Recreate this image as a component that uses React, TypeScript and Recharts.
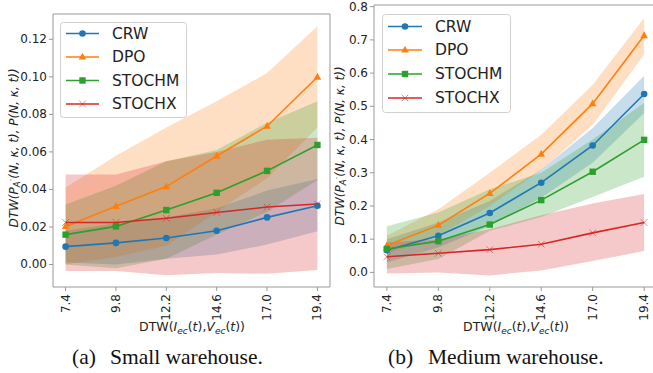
import React from 'react';
import { ComposedChart, Area, Line, XAxis, YAxis, ReferenceArea } from 'recharts';

const xValues = [7.4, 9.8, 12.2, 14.6, 17.0, 19.4];
const seriesNames = ['CRW', 'DPO', 'STOCHM', 'STOCHX'];
const seriesKeys = ['crw', 'dpo', 'stochm', 'stochx'];
const colors = ['#1f77b4', '#ff7f0e', '#2ca02c', '#d62728'];
const shapes = ['circle', 'triangle', 'square', 'x'];

// (a) Small warehouse
const smallCrwMean = [0.0095, 0.0115, 0.0141, 0.018, 0.0251, 0.0313];
const smallCrwLo = [0.001, 0.0, 0.003, 0.0053, 0.0106, 0.0177];
const smallCrwHi = [0.018, 0.022, 0.025, 0.03, 0.0394, 0.0455];
const smallDpoMean = [0.0203, 0.031, 0.0415, 0.0578, 0.0737, 0.0999];
const smallDpoLo = [0.0, 0.004, 0.01, 0.028, 0.046, 0.073];
const smallDpoHi = [0.041, 0.058, 0.073, 0.087, 0.102, 0.127];
const smallStochmMean = [0.0159, 0.0203, 0.029, 0.0382, 0.0499, 0.0637];
const smallStochmLo = [0.0, -0.002, 0.003, 0.016, 0.028, 0.045];
const smallStochmHi = [0.032, 0.042, 0.055, 0.061, 0.0755, 0.087];
const smallStochxMean = [0.0224, 0.0224, 0.0246, 0.0277, 0.0306, 0.0322];
const smallStochxLo = [-0.0035, -0.0035, -0.0058, -0.0045, -0.005, -0.003];
const smallStochxHi = [0.048, 0.048, 0.055, 0.06, 0.0665, 0.0675];

// (b) Medium warehouse
const medCrwMean = [0.0665, 0.11, 0.179, 0.27, 0.382, 0.537];
const medCrwLo = [0.03, 0.075, 0.14, 0.225, 0.33, 0.48];
const medCrwHi = [0.1, 0.15, 0.215, 0.31, 0.435, 0.592];
const medDpoMean = [0.0806, 0.142, 0.238, 0.356, 0.508, 0.713];
const medDpoLo = [0.055, 0.11, 0.2, 0.308, 0.444, 0.656];
const medDpoHi = [0.11, 0.19, 0.3, 0.414, 0.565, 0.766];
const medStochmMean = [0.0705, 0.094, 0.144, 0.2175, 0.303, 0.399];
const medStochmLo = [0.01, 0.04, 0.125, 0.167, 0.227, 0.288];
const medStochmHi = [0.139, 0.18, 0.25, 0.3, 0.4, 0.51];
const medStochxMean = [0.047, 0.0574, 0.0685, 0.0846, 0.119, 0.15];
const medStochxLo = [-0.003, 0.0, -0.009, 0.006, 0.034, 0.0645];
const medStochxHi = [0.09, 0.1, 0.13, 0.172, 0.2075, 0.236];

const smallYTicks = [0, 0.02, 0.04, 0.06, 0.08, 0.1, 0.12];
const medYTicks = [0, 0.1, 0.2, 0.3, 0.4, 0.5, 0.6, 0.7, 0.8];

function buildRows(means: number[][], los: number[][], his: number[][]) {
  return xValues.map((x, i) => {
    const r: any = { x };
    seriesKeys.forEach((k, s) => {
      r[k] = means[s][i];
      r[k + 'Band'] = [los[s][i], his[s][i]];
    });
    return r;
  });
}

const smallRows = buildRows(
  [smallCrwMean, smallDpoMean, smallStochmMean, smallStochxMean],
  [smallCrwLo, smallDpoLo, smallStochmLo, smallStochxLo],
  [smallCrwHi, smallDpoHi, smallStochmHi, smallStochxHi]
);
const medRows = buildRows(
  [medCrwMean, medDpoMean, medStochmMean, medStochxMean],
  [medCrwLo, medDpoLo, medStochmLo, medStochxLo],
  [medCrwHi, medDpoHi, medStochmHi, medStochxHi]
);

const FONT = '"DejaVu Sans", sans-serif';
const FRAME = '#999999';

function Marker({ cx, cy, shape, color }: any) {
  if (cx == null || cy == null) return null;
  if (shape === 'circle') return <circle cx={cx} cy={cy} r={3.3} fill={color} />;
  if (shape === 'triangle')
    return <polygon points={`${cx},${cy - 4.2} ${cx - 3.8},${cy + 2.6} ${cx + 3.8},${cy + 2.6}`} fill={color} />;
  if (shape === 'square') return <rect x={cx - 3.2} y={cy - 3.2} width={6.4} height={6.4} fill={color} />;
  return (
    <g stroke={color} strokeWidth={1} opacity={0.55}>
      <line x1={cx - 3.3} y1={cy - 3.3} x2={cx + 3.3} y2={cy + 3.3} />
      <line x1={cx - 3.3} y1={cy + 3.3} x2={cx + 3.3} y2={cy - 3.3} />
    </g>
  );
}

function XTick(props: any) {
  const { x, y, payload } = props;
  return (
    <text
      transform={`translate(${x},${y + 1}) rotate(-90)`}
      textAnchor="end"
      dominantBaseline="central"
      fontFamily={FONT}
      fontSize={12}
      fill="#222"
    >
      {Number(payload.value).toFixed(1)}
    </text>
  );
}

function YTick(props: any) {
  const { x, y, payload, fmt } = props;
  return (
    <text x={x} y={y} textAnchor="end" dominantBaseline="central" fontFamily={FONT} fontSize={12} fill="#222">
      {fmt(payload.value)}
    </text>
  );
}

function LegendBox({ left, top, w, h, rowY, lineX1, lineX2, textX }: any) {
  return (
    <svg width={w} height={h} style={{ position: 'absolute', left, top, overflow: 'visible' }}>
      <rect x={0.5} y={0.5} width={w - 1} height={h - 1} rx={3} fill="#ffffff" fillOpacity={0.8} stroke="#d0d0d0" />
      {seriesNames.map((n, i) => (
        <g key={n}>
          <line x1={lineX1} x2={lineX2} y1={rowY[i]} y2={rowY[i]} stroke={colors[i]} strokeWidth={1.6} />
          <Marker cx={(lineX1 + lineX2) / 2} cy={rowY[i]} shape={shapes[i]} color={colors[i]} />
          <text x={textX} y={rowY[i]} dominantBaseline="central" fontFamily={FONT} fontSize={15.5} fill="#222">
            {n}
          </text>
        </g>
      ))}
    </svg>
  );
}

function Panel({ rows, yDomain, yTicks, fmt, margin, yWidth, xHeight, width, left }: any) {
  return (
    <div style={{ position: 'absolute', left, top: 0 }}>
      <ComposedChart width={width} height={373} data={rows} margin={margin}>
        <XAxis
          dataKey="x"
          type="number"
          domain={[6.8, 20.0]}
          allowDataOverflow
          ticks={xValues}
          height={xHeight}
          tickSize={4}
          tickMargin={2}
          axisLine={false}
          tickLine={{ stroke: FRAME }}
          tick={<XTick />}
          interval={0}
        />
        <YAxis
          type="number"
          domain={yDomain}
          allowDataOverflow
          ticks={yTicks}
          width={yWidth}
          tickSize={4}
          tickMargin={2}
          axisLine={false}
          tickLine={{ stroke: FRAME }}
          tick={<YTick fmt={fmt} />}
          interval={0}
        />
        {seriesKeys.map((k, i) => (
          <Area
            key={k + 'b'}
            dataKey={k + 'Band'}
            type="linear"
            stroke="none"
            fill={colors[i]}
            fillOpacity={0.25}
            isAnimationActive={false}
            dot={false}
            activeDot={false}
          />
        ))}
        {seriesKeys.map((k, i) => (
          <Line
            key={k}
            dataKey={k}
            name={seriesNames[i]}
            type="linear"
            stroke={colors[i]}
            strokeWidth={1.6}
            isAnimationActive={false}
            activeDot={false}
            dot={(p: any) => <Marker key={`${k}-${p.index}`} cx={p.cx} cy={p.cy} shape={shapes[i]} color={colors[i]} />}
          />
        ))}
        <ReferenceArea
          x1={6.8}
          x2={20.0}
          y1={yDomain[0]}
          y2={yDomain[1]}
          fill="none"
          fillOpacity={0}
          stroke={FRAME}
          strokeWidth={1}
          ifOverflow="visible"
        />
      </ComposedChart>
    </div>
  );
}

function YLabel({ x, y }: any) {
  return (
    <text
      transform={`translate(${x},${y}) rotate(-90)`}
      textAnchor="middle"
      dominantBaseline="central"
      fontFamily={FONT}
      fontSize={12}
      fontStyle="italic"
      fill="#222"
    >
      DTW(P
      <tspan fontSize={8.5} dy={3}>A</tspan>
      <tspan fontSize={8.5} dy={-6}>·</tspan>
      <tspan dy={3}>(N, κ, t), P(N, κ, t))</tspan>
    </text>
  );
}

function XLabel({ x, y }: any) {
  return (
    <text x={x} y={y} textAnchor="middle" fontFamily={FONT} fontSize={12.5} fill="#222">
      DTW(
      <tspan fontStyle="italic">I</tspan>
      <tspan fontStyle="italic" fontSize={9} dy={2.5}>ec</tspan>
      <tspan dy={-2.5}>(</tspan>
      <tspan fontStyle="italic">t</tspan>),
      <tspan fontStyle="italic">V</tspan>
      <tspan fontStyle="italic" fontSize={9} dy={2.5}>ec</tspan>
      <tspan dy={-2.5}>(</tspan>
      <tspan fontStyle="italic">t</tspan>))
    </text>
  );
}

export default function App() {
  return (
    <div style={{ position: 'absolute', left: 0, top: 0, width: 653, height: 373, overflow: 'hidden', background: '#fff' }}>
      <Panel
        rows={smallRows}
        yDomain={[-0.012, 0.1335]}
        yTicks={smallYTicks}
        fmt={(v: number) => v.toFixed(2)}
        margin={{ left: 0, right: 10, top: 14, bottom: 0 }}
        yWidth={53}
        xHeight={86}
        width={340}
        left={0}
      />
      <Panel
        rows={medRows}
        yDomain={[-0.044, 0.805]}
        yTicks={medYTicks}
        fmt={(v: number) => v.toFixed(1)}
        margin={{ left: 0, right: 8, top: 5, bottom: 0 }}
        yWidth={49}
        xHeight={86}
        width={340}
        left={325}
      />
      <LegendBox left={60} top={22} w={127} h={96} rowY={[11.5, 35, 58.5, 82]} lineX1={6} lineX2={39} textX={52} />
      <LegendBox left={382} top={14} w={129} h={99} rowY={[12.5, 36, 60, 84]} lineX1={6} lineX2={40} textX={53} />
      <svg width={653} height={373} style={{ position: 'absolute', left: 0, top: 0, pointerEvents: 'none' }}>
        <YLabel x={14} y={148} />
        <YLabel x={340} y={146} />
        <XLabel x={192} y={331} />
        <XLabel x={516} y={331} />
        <text y={364} fontFamily='"Liberation Serif", serif' fontSize={21.5} fill="#111">
          <tspan x={72}>(a)</tspan>
          <tspan x={110}>Small warehouse.</tspan>
        </text>
        <text y={364} fontFamily='"Liberation Serif", serif' fontSize={21.5} fill="#111">
          <tspan x={388}>(b)</tspan>
          <tspan x={428}>Medium warehouse.</tspan>
        </text>
      </svg>
    </div>
  );
}
